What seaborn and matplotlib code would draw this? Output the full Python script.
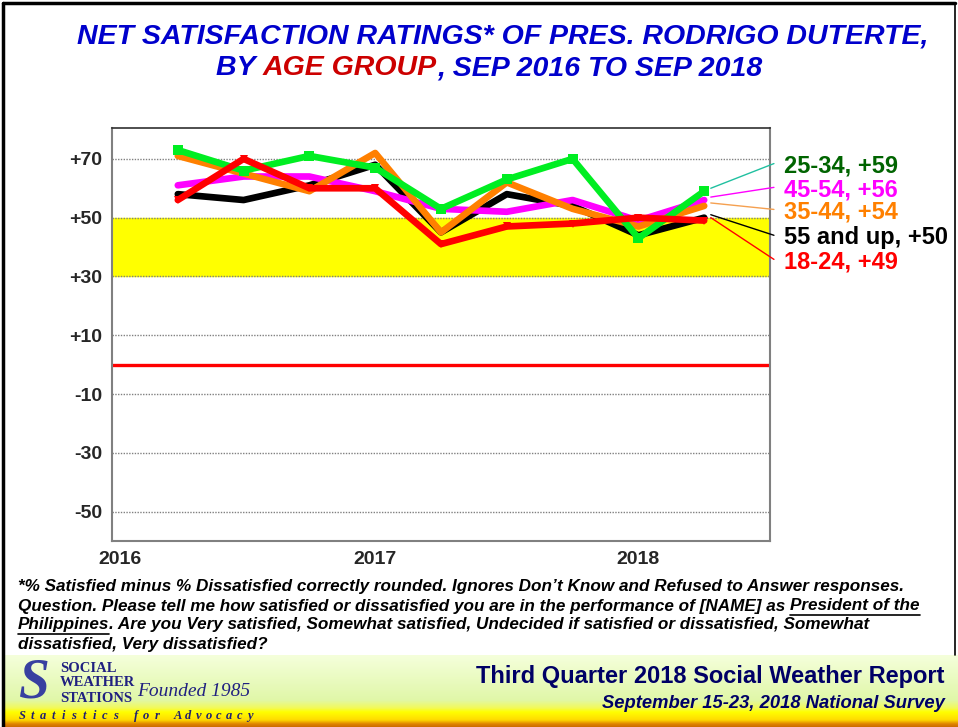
import matplotlib.pyplot as plt
import matplotlib.transforms as mtransforms
import seaborn as sns
import pandas as pd
import numpy as np

sns.set_style("white")
plt.rcParams['font.family'] = ['Liberation Sans', 'DejaVu Sans']

# Survey rounds (Sep 2016 .. Sep 2018), drawn on the year axis as in the original
quarters = [2016.25, 2016.5, 2016.75, 2017.0, 2017.25, 2017.5, 2017.75, 2018.0, 2018.25]

# Net satisfaction by age group
age_groups = ["55 and up", "45-54", "35-44", "25-34", "18-24"]
ns_55up = [58, 56, 61, 68, 45, 58, 54, 44, 50]
ns_45_54 = [61, 64, 64, 59, 53, 52, 56, 49, 56]
ns_35_44 = [71, 65, 59, 72, 45, 62, 53, 47, 54]
ns_25_34 = [73, 66, 71, 67, 53, 63, 70, 43, 59]
ns_18_24 = [56, 70, 60, 60, 41, 47, 48, 50, 49]

y_ticks = [-50, -30, -10, 10, 30, 50, 70]
y_tick_labels = ["-50", "-30", "-10", "+10", "+30", "+50", "+70"]
x_ticks = [2016, 2017, 2018]
x_tick_labels = ["2016", "2017", "2018"]

series = {"55 and up": ns_55up, "45-54": ns_45_54, "35-44": ns_35_44,
          "25-34": ns_25_34, "18-24": ns_18_24}
df = pd.concat([pd.DataFrame({"Quarter": quarters, "Net": v, "Age": k})
                for k, v in series.items()], ignore_index=True)

line_colors = {"55 and up": "#000000", "45-54": "#FF00FF", "35-44": "#FF8000",
               "25-34": "#00EE22", "18-24": "#FF0000"}
label_colors = {"55 and up": "#000000", "45-54": "#FF00FF", "35-44": "#FF8000",
                "25-34": "#006400", "18-24": "#FF0000"}
leader_colors = {"55 and up": "#000000", "45-54": "#FF00FF", "35-44": "#F5A050",
                 "25-34": "#20C0A0", "18-24": "#FF0000"}
markers = {"55 and up": None, "45-54": None, "35-44": None, "25-34": "s", "18-24": "v"}
label_y = {"25-34": 67.6, "45-54": 59.5, "35-44": 52.0, "55 and up": 43.2, "18-24": 35.0}

W, H = 958, 727
fig = plt.figure(figsize=(W / 100, H / 100), dpi=100)
fig.patch.set_facecolor("white")

# overlay in pixel coordinates for titles, notes and footer
fa = fig.add_axes([0, 0, 1, 1], zorder=0)
fa.axis("off")

# footer gradient
stops_y = [655, 700, 708, 712, 720, 724, 727]
stops_c = np.array([[0.96, 1.0, 0.86], [0.88, 0.97, 0.66], [0.95, 0.98, 0.35],
                    [1.0, 1.0, 0.0], [1.0, 0.86, 0.0], [0.88, 0.52, 0.0], [0.8, 0.42, 0.0]])
yy = np.linspace(655, 727, 200)
grad = np.stack([np.interp(yy, stops_y, stops_c[:, i]) for i in range(3)], axis=1)
fa.imshow(grad[:, None, :], extent=[3, W, 727, 655], aspect="auto", interpolation="bilinear")
fa.set_xlim(0, W)
fa.set_ylim(H, 0)

# frame
fa.plot([3, 3], [3, H], color="black", lw=2.5)
fa.plot([3, 955], [3, 3], color="black", lw=2.5)
fa.plot([955, 955], [3, 655], color="black", lw=1.2)

# main chart
ax = fig.add_axes([112 / W, 1 - 541 / H, 658 / W, 413 / H], zorder=2)
ax.axhspan(30, 50, color="#FFFF00", zorder=0)
for yt in y_ticks:
    ax.axhline(yt, color="#808080", lw=1.0, ls=(0, (1, 1)), zorder=1)
ax.axhline(0, color="#FF0000", lw=2.4, zorder=2)

for g in age_groups:
    sub = df[df["Age"] == g]
    sns.lineplot(data=sub, x="Quarter", y="Net", ax=ax, color=line_colors[g],
                 lw=4.8, marker=markers[g], markersize=7.5 if g == "25-34" else 6,
                 markeredgewidth=0, zorder=3)

ax.set_xlim(2016, 2018.5)
ax.set_ylim(-60, 80.5)
ax.set_yticks(y_ticks)
ax.set_yticklabels(y_tick_labels, fontsize=14, fontweight="bold")
ax.set_xticks(x_ticks)
ax.set_xticklabels(x_tick_labels, fontsize=14, fontweight="bold")
ax.tick_params(length=0, pad=7)
ax.set_xlabel("")
ax.set_ylabel("")
# first year label sits a little right of the axis corner in the original
first = ax.get_xticklabels()[0]
first.set_transform(first.get_transform() +
                    mtransforms.ScaledTranslation(8 / 100, 0, fig.dpi_scale_trans))
for s in ["left", "bottom", "right"]:
    ax.spines[s].set_color("#808080")
    ax.spines[s].set_linewidth(1.5)
ax.spines["top"].set_color("#303030")
ax.spines["top"].set_linewidth(1.2)

# end labels with leader lines
for g in age_groups:
    last = series[g][-1]
    ax.plot([2018.275, 2018.515], [last + 1, label_y[g] + 0.8], color=leader_colors[g],
            lw=1.0, clip_on=False, zorder=4)
    ax.text(2018.555, label_y[g], f"{g}, +{last}", color=label_colors[g],
            fontsize=17, fontweight="bold", va="center", ha="left", clip_on=False)

# title
title_kw = dict(fontsize=20.5, fontweight="bold", fontstyle="italic", color="#0000CC")
fa.text(W / 2 + 24, 37, "NET SATISFACTION RATINGS* OF PRES. RODRIGO DUTERTE,",
        ha="center", va="center", **title_kw)
t1 = fa.text(0, 68, "BY ", ha="left", va="center", **title_kw)
t2 = fa.annotate("AGE GROUP", xy=(1, 0), xycoords=t1, va="bottom", ha="left",
                 **{**title_kw, "color": "#CC0000"})
t3 = fa.annotate(", SEP 2016 TO SEP 2018", xy=(1, 0), xycoords=t2, va="bottom",
                 ha="left", **title_kw)

# footnote
note_kw = dict(fontsize=12.3, fontweight="bold", fontstyle="italic", color="black",
               ha="left", va="center")
fa.text(18, 586, "*% Satisfied minus % Dissatisfied correctly rounded. Ignores Don\u2019t "
        "Know and Refused to Answer responses.", **note_kw)
n2 = fa.text(18, 606, "Question. Please tell me how satisfied or dissatisfied you are in "
             "the performance of [NAME] as", **note_kw)
n2u = fa.annotate("President of the", xy=(1, 0), xycoords=n2, xytext=(5, 0),
                  textcoords="offset pixels", **{**note_kw, "va": "bottom"})
n3u = fa.text(18, 625, "Philippines", **note_kw)
fa.annotate(". Are you Very satisfied, Somewhat satisfied, Undecided if satisfied or "
            "dissatisfied, Somewhat", xy=(1, 0), xycoords=n3u,
            **{**note_kw, "va": "bottom"})
fa.text(18, 645, "dissatisfied, Very dissatisfied?", **note_kw)

# footer texts
fa.text(945, 677, "Third Quarter 2018 Social Weather Report", ha="right", va="center",
        fontsize=17, fontweight="bold", color="#000066")
fa.text(945, 704, "September 15-23, 2018 National Survey", ha="right", va="center",
        fontsize=13.2, fontweight="bold", fontstyle="italic", color="#000066")

serif = ["Liberation Serif", "DejaVu Serif"]
fa.text(34, 684, "S", ha="center", va="center", fontsize=40, fontweight="bold",
        fontstyle="italic", family=serif, color="#3840A0")
for txt, y in [("SOCIAL", 668), ("WEATHER", 683), ("STATIONS", 698)]:
    fa.text(60, y, txt, ha="left", va="center", fontsize=10.5, fontweight="bold",
            family=serif, color="#202080")
fa.text(137, 692, "Founded 1985", ha="left", va="center", fontsize=14,
        fontstyle="italic", family=serif, color="#202080")
motto = "Statistics for Advocacy"
for ch, xc in zip(motto, np.linspace(22, 250, len(motto))):
    fa.text(xc, 716, ch, ha="center", va="center", fontsize=9, fontweight="bold",
            fontstyle="italic", family=serif, color="#202070")

# centre title line 2 and underline linked text
fig.canvas.draw()
r = fig.canvas.get_renderer()
b1 = t1.get_window_extent(r)
b3 = t3.get_window_extent(r)
total = b3.x1 - b1.x0
t1.set_x(489 - total / 2)
fig.canvas.draw()
for t in [n2u, n3u]:
    bb = t.get_window_extent(r)
    y_line = H - bb.y0 + 1
    fa.plot([bb.x0, bb.x1], [y_line, y_line], color="black", lw=1.2)

fig.savefig("out.png", dpi=100)
